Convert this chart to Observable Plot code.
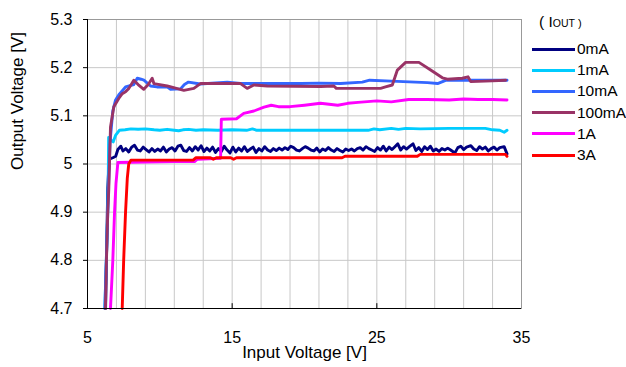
<!DOCTYPE html>
<html><head><meta charset="utf-8">
<script src="https://cdn.jsdelivr.net/npm/d3@7"></script>
<script src="https://cdn.jsdelivr.net/npm/@observablehq/plot@0.6"></script>
<style>
body{margin:0;background:#fff;font-family:"Liberation Sans",Arial,sans-serif;}
#wrap{position:relative;width:626px;height:367px;overflow:hidden;}
#wrap svg{display:block;}
.lg{position:absolute;font-size:15.5px;line-height:16px;white-space:nowrap;color:#000;}
.sw{position:absolute;height:3px;width:43px;}
</style></head><body><div id="wrap"></div>
<script>
const xLabel = "Input Voltage [V]";
const yLabel = "Output Voltage [V]";
const xTicks = [5, 15, 25, 35];
const xGrid = [7, 9, 11, 13, 15, 17, 19, 21, 23, 25, 27, 29, 31, 33];
const yTicks = [4.7, 4.8, 4.9, 5.0, 5.1, 5.2, 5.3];
const seriesNames = ["0mA", "1mA", "10mA", "100mA", "1A", "3A"];
const seriesColors = ["#000080", "#00CCFF", "#3366FF", "#993366", "#FF00FF", "#FF0000"];

// [input V, output V]
const s0mA = [[6.25,4.70],[6.4,4.95],[6.5,5.01],[6.75,5.013],[6.95,5.016],[7.1,5.03],[7.3,5.037],[7.45,5.027],[7.65,5.032],[7.85,5.025],[8.05,5.035],[8.25,5.039],[8.45,5.029],[8.65,5.027],[8.85,5.035],[9.05,5.03],[9.25,5.025],[9.45,5.032],[9.65,5.026],[9.85,5.031],[10.05,5.027],[10.25,5.035],[10.45,5.025],[10.65,5.031],[10.85,5.034],[11.05,5.027],[11.25,5.037],[11.45,5.039],[11.65,5.028],[11.85,5.026],[12.05,5.034],[12.25,5.027],[12.45,5.036],[12.65,5.029],[12.85,5.038],[13.05,5.026],[13.25,5.033],[13.45,5.027],[13.65,5.035],[13.85,5.024],[14.05,5.032],[14.25,5.026],[14.45,5.037],[14.65,5.029],[14.85,5.023],[15.05,5.035],[15.25,5.025],[15.45,5.033],[15.65,5.027],[15.85,5.036],[16.05,5.026],[16.25,5.031],[16.45,5.035],[16.65,5.024],[16.85,5.032],[17.05,5.027],[17.25,5.036],[17.45,5.029],[17.65,5.026],[17.85,5.032],[18.05,5.028],[18.25,5.033],[18.45,5.029],[18.65,5.034],[18.85,5.03],[19.05,5.037],[19.25,5.034],[19.45,5.029],[19.65,5.027],[19.85,5.032],[20.05,5.036],[20.25,5.033],[20.45,5.029],[20.65,5.027],[20.85,5.033],[21.05,5.025],[21.25,5.031],[21.45,5.028],[21.65,5.034],[21.85,5.029],[22.05,5.026],[22.25,5.032],[22.45,5.028],[22.65,5.025],[22.85,5.031],[23.05,5.028],[23.25,5.031],[23.45,5.027],[23.65,5.032],[23.85,5.034],[24.05,5.029],[24.25,5.036],[24.45,5.032],[24.65,5.029],[24.85,5.026],[25.05,5.034],[25.25,5.029],[25.45,5.037],[25.65,5.027],[25.85,5.035],[26.05,5.03],[26.25,5.036],[26.45,5.042],[26.65,5.029],[26.85,5.036],[27.05,5.031],[27.25,5.036],[27.5,5.042],[27.7,5.028],[27.9,5.034],[28.1,5.026],[28.3,5.036],[28.5,5.03],[28.7,5.037],[28.9,5.027],[29.1,5.031],[29.3,5.026],[29.5,5.032],[29.7,5.029],[29.9,5.033],[30.1,5.029],[30.4,5.023],[30.6,5.034],[30.8,5.037],[31.0,5.03],[31.2,5.035],[31.5,5.038],[31.7,5.031],[31.9,5.028],[32.1,5.036],[32.3,5.031],[32.5,5.035],[32.7,5.027],[32.9,5.032],[33.1,5.035],[33.3,5.029],[33.5,5.034],[33.8,5.036],[34.0,5.021]];
const s1mA = [[6.2,4.70],[6.35,4.85],[6.43,4.95],[6.46,5.055],[6.6,5.05],[6.78,5.046],[6.95,5.06],[7.2,5.07],[7.6,5.071],[8.0,5.073],[8.5,5.072],[9.0,5.073],[9.6,5.071],[10.0,5.07],[10.5,5.072],[11.0,5.07],[11.3,5.069],[11.6,5.071],[12.0,5.072],[12.5,5.07],[13,5.071],[14,5.07],[15,5.071],[16,5.07],[16.4,5.073],[16.7,5.07],[18,5.07],[20,5.07],[22,5.07],[24.4,5.07],[24.8,5.073],[25.2,5.071],[26,5.074],[26.5,5.072],[27,5.074],[28,5.073],[30,5.074],[32.5,5.074],[33,5.071],[33.5,5.07],[33.8,5.066],[34,5.07]];
const s10mA = [[6.2,4.70],[6.45,4.95],[6.55,5.04],[6.6,5.06],[6.75,5.11],[6.94,5.133],[7.2,5.145],[7.63,5.16],[8.2,5.165],[8.44,5.178],[8.7,5.176],[8.9,5.174],[9.36,5.162],[9.8,5.16],[10.5,5.16],[10.74,5.155],[11.43,5.156],[11.7,5.165],[11.98,5.17],[12.8,5.166],[14.66,5.17],[15.58,5.167],[19.73,5.167],[21,5.168],[22.5,5.167],[24.0,5.17],[24.5,5.174],[26,5.172],[28.5,5.169],[29.2,5.167],[29.8,5.174],[34,5.174]];
const s100mA = [[6.24,4.70],[6.31,4.80],[6.40,4.90],[6.47,4.946],[6.59,5.077],[6.82,5.119],[7.16,5.136],[7.4,5.146],[7.63,5.15],[7.86,5.157],[8.2,5.174],[8.5,5.165],[8.89,5.155],[9.2,5.165],[9.47,5.178],[9.59,5.167],[10.51,5.162],[11.66,5.153],[12.35,5.157],[12.81,5.167],[15.58,5.167],[16.04,5.157],[16.5,5.164],[17.43,5.162],[21.11,5.161],[22.03,5.162],[22.2,5.157],[25.26,5.157],[25.6,5.16],[26.07,5.164],[26.42,5.195],[26.99,5.211],[27.91,5.211],[28.72,5.195],[29.53,5.179],[29.88,5.176],[30.91,5.178],[31.3,5.181],[31.49,5.171],[32.5,5.172],[33.9,5.174]];
const s1A = [[6.59,4.70],[6.75,4.80],[6.87,4.90],[6.97,4.96],[7.1,5.003],[9,5.004],[11,5.005],[12.4,5.005],[12.6,5.01],[14.2,5.012],[14.25,5.093],[15.3,5.094],[15.8,5.105],[16.5,5.11],[17.2,5.118],[17.7,5.122],[18.2,5.119],[19.0,5.119],[20.0,5.122],[21.1,5.126],[22.3,5.122],[23.0,5.126],[23.7,5.128],[25.0,5.131],[26.0,5.129],[27.2,5.134],[28.5,5.134],[30,5.133],[31,5.135],[32,5.134],[33,5.134],[34,5.133]];
const s3A = [[7.4,4.70],[7.5,4.80],[7.63,4.90],[7.75,4.97],[7.85,5.0],[8.0,5.008],[12.3,5.008],[12.5,5.013],[13.5,5.013],[13.7,5.010],[13.9,5.013],[14.9,5.013],[15.1,5.010],[15.3,5.013],[22.6,5.013],[22.8,5.016],[27.8,5.016],[28.0,5.02],[33.9,5.02],[34.0,5.016]];
const seriesData = [s0mA, s1mA, s10mA, s100mA, s1A, s3A];

const rows = seriesData.flatMap((arr, i) => arr.map(([vin, vout]) => ({vin, vout, s: seriesNames[i]})));

const lines = seriesNames.map((name, i) =>
  Plot.line(rows.filter(d => d.s === name), {x: "vin", y: "vout", stroke: seriesColors[i], strokeWidth: 2.9, strokeLinejoin: "round"})
);

const chart = Plot.plot({
  width: 626, height: 367,
  marginLeft: 87, marginRight: 105, marginTop: 19, marginBottom: 59,
  x: {domain: [5, 35]},
  y: {domain: [4.7, 5.3]},
  style: {fontFamily: "'Liberation Sans', Arial, sans-serif", fontSize: "16px", color: "#000", background: "#fff"},
  marks: [
    Plot.gridX(xGrid, {stroke: "#c8c8c8", strokeOpacity: 1}),
    Plot.gridY(yTicks, {stroke: "#c8c8c8", strokeOpacity: 1}),
    Plot.frame({stroke: "#999999"}),
    ...lines,
    Plot.ruleX([5], {stroke: "#000"}),
    Plot.ruleY([4.7], {stroke: "#000"}),
    Plot.ruleX([15, 25], {y1: 4.7, y2: 4.71, stroke: "#000"}),
    Plot.axisX(xTicks, {tickSize: 0, tickPadding: 23, label: null, fontSize: 16}),
    Plot.axisY(yTicks, {tickSize: 4, tickPadding: 11, label: null, fontSize: 16, tickFormat: d => String(+d.toFixed(1))}),
    Plot.text([yLabel], {text: d => d, frameAnchor: "left", dx: -70, dy: 6, rotate: -90, fontSize: 17}),
    Plot.text([xLabel], {text: d => d, frameAnchor: "bottom", dy: 49.5, fontSize: 17})
  ]
});
const wrap = document.getElementById("wrap");
wrap.appendChild(chart);

const title = document.createElement("div");
title.className = "lg";
title.style.left = "539px"; title.style.top = "14px";
title.innerHTML = "( I<span style='font-size:10.5px'>OUT</span><span style='font-size:11px'> )</span>";
wrap.appendChild(title);
seriesNames.forEach((name, i) => {
  const cy = 49 + i * 21.2;
  const sw = document.createElement("div");
  sw.className = "sw";
  sw.style.left = "532px"; sw.style.top = (cy - 1.5) + "px"; sw.style.background = seriesColors[i];
  wrap.appendChild(sw);
  const t = document.createElement("div");
  t.className = "lg";
  t.style.left = "577px"; t.style.top = (cy - 8) + "px";
  t.textContent = name;
  wrap.appendChild(t);
});
</script></body></html>
